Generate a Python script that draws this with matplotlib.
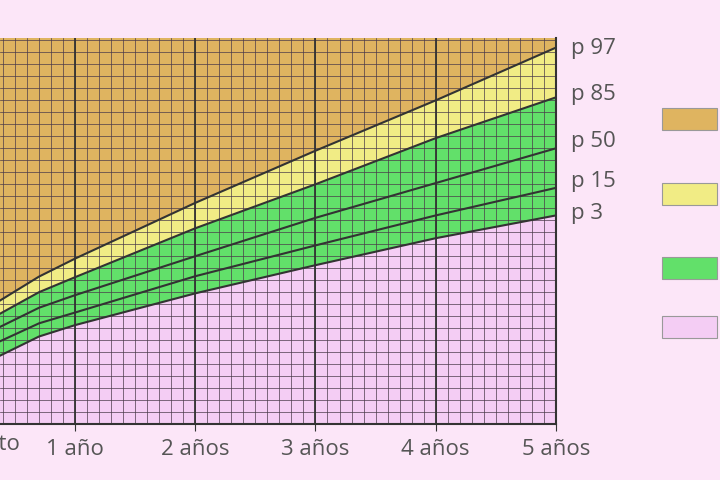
import matplotlib
matplotlib.use("Agg")
import matplotlib.pyplot as plt
import numpy as np

years = [0.375, 0.7, 1, 2, 3, 4, 5]
p97 = [10.3, 12.3, 13.8, 18.45, 22.8, 27.0, 31.4]
p85 = [9.2, 11.0, 12.25, 16.33, 20.0, 23.85, 27.25]
p50 = [8.1, 9.7, 10.75, 14.0, 17.2, 20.1, 23.0]
p15 = [6.9, 8.4, 9.3, 12.33, 14.9, 17.4, 19.7]
p3 = [5.7, 7.3, 8.25, 10.9, 13.25, 15.5, 17.4]
tick_years = [0, 1, 2, 3, 4, 5]
tick_labels = ["Nacimiento", "1 año", "2 años", "3 años", "4 años", "5 años"]
pct_labels = ["p 97", "p 85", "p 50", "p 15", "p 3"]

plt.rcParams['font.family'] = ['Open Sans', 'DejaVu Sans']
bg = "#fce6f8"
fig = plt.figure(figsize=(7.2, 4.8), dpi=100, facecolor=bg)
ax = fig.add_axes([0, 0.1167, 0.772, 0.804])
ax.set_facecolor(bg)
ymax = 32.2
x = np.array(years)
ax.fill_between(x, p97, ymax, color="#dfb460", zorder=1)
ax.fill_between(x, p85, p97, color="#f1ec85", zorder=1)
ax.fill_between(x, p3, p85, color="#62e06a", zorder=1)
ax.fill_between(x, 0, p3, color="#f4cdf4", zorder=1)
for c in [p97, p85, p50, p15, p3]:
    ax.plot(x, c, color="#333333", lw=1.5, zorder=3)
ax.set_xlim(0.375, 5)
ax.set_ylim(0, ymax)
for v in np.arange(0.4, 5.0, 0.1):
    ax.axvline(v, color="#4a3a4a", lw=0.5, zorder=2)
for v in np.arange(1, 32.2, 1):
    ax.axhline(v, color="#4a3a4a", lw=0.5, zorder=2)
for v in tick_years[1:5]:
    ax.axvline(v, color="#333333", lw=1.3, zorder=2)
for s in ["top", "left"]:
    ax.spines[s].set_visible(False)
ax.spines["right"].set_color("#333333"); ax.spines["right"].set_linewidth(1.5)
ax.spines["bottom"].set_color("#333333"); ax.spines["bottom"].set_linewidth(1.5)
ax.set_yticks([])
ax.set_xticks(tick_years[1:])
ax.set_xticklabels(tick_labels[1:], fontsize=16, color="#555555")
ax.tick_params(axis="x", length=5, color="#333333", pad=6)
ax.text(tick_years[0] + 0.05, -0.85, tick_labels[0], ha="center", va="top", fontsize=16,
        color="#555555", clip_on=False)
label_y = [31.3, 27.45, 23.6, 20.2, 17.6]
for lab, yy in zip(pct_labels, label_y):
    ax.text(5.13, yy, lab, fontsize=16, color="#555555", va="center", clip_on=False)
for yp, col in zip([108, 183, 257, 316], ["#dfb460", "#f1ec85", "#62e06a", "#f4cdf4"]):
    fig.patches.append(plt.Rectangle((662/720, 1-(yp+22)/480), 55/720, 22/480,
                       transform=fig.transFigure, facecolor=col, edgecolor="#999999", lw=0.8))
fig.savefig("out.png", dpi=100, facecolor=bg)
